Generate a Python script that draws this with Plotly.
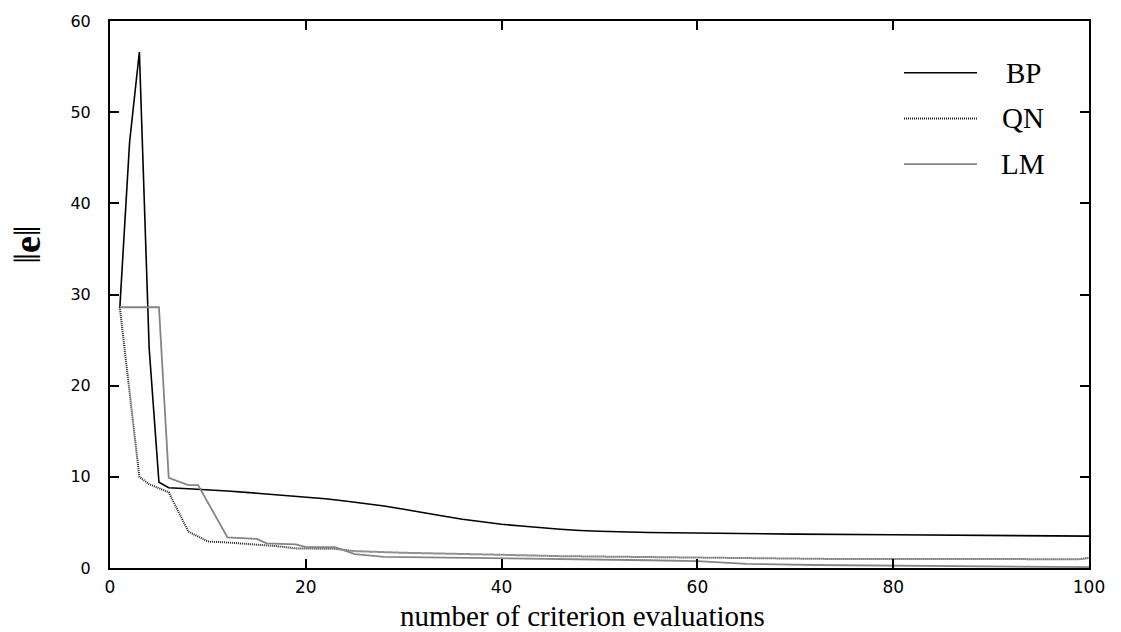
import plotly.graph_objects as go

# Error norm versus number of criterion evaluations for three training methods
bp_x = [1, 2, 3, 4, 5, 6, 8, 10, 12, 15, 17, 20, 22, 24, 26, 28, 30, 32, 34, 36, 38, 40, 42, 44, 46,
        48, 50, 55, 60, 65, 70, 80, 90, 100]
bp_y = [28.5, 46.7, 56.6, 24.1, 9.4, 8.8, 8.7, 8.6, 8.45, 8.2, 8.05, 7.8, 7.6, 7.35, 7.1, 6.8, 6.45,
        6.05, 5.7, 5.35, 5.05, 4.8, 4.6, 4.4, 4.25, 4.12, 4.03, 3.9, 3.82, 3.77, 3.72, 3.65, 3.58, 3.5]

qn_x = [1, 3, 4, 6, 8, 10, 12, 15, 17, 19, 23, 25, 30, 40, 46, 55, 65, 73, 85, 99, 100]
qn_y = [28.6, 10.0, 9.2, 8.3, 4.0, 2.9, 2.8, 2.6, 2.4, 2.15, 2.1, 1.85, 1.67, 1.45, 1.3, 1.2, 1.1, 1.0,
        0.98, 0.97, 1.1]

lm_x = [1, 5, 6, 8, 9, 12, 15, 16, 19, 20, 23, 25, 28, 35, 46, 55, 60, 65, 72, 85, 99, 100]
lm_y = [28.6, 28.6, 9.9, 9.1, 9.1, 3.35, 3.2, 2.7, 2.6, 2.3, 2.3, 1.53, 1.23, 1.15, 0.95, 0.85, 0.76,
        0.45, 0.33, 0.2, 0.1, 0.1]

x_ticks = [0, 20, 40, 60, 80, 100]
y_ticks = [0, 10, 20, 30, 40, 50, 60]

series = [
    ("BP", bp_x, bp_y, dict(color="#000000", width=1.6)),
    ("QN", qn_x, qn_y, dict(color="#222222", width=2, dash="1px,1px")),
    ("LM", lm_x, lm_y, dict(color="#858585", width=1.8)),
]

fig = go.Figure()
for name, xs, ys, line in series:
    fig.add_trace(go.Scatter(x=xs, y=ys, mode="lines", name=name, line=line, showlegend=False))

serif = "Liberation Serif, Times New Roman, serif"
tickfont = "DejaVu Sans, sans-serif"

# plot area in pixels, used to place the legend and labels in paper coordinates
left, right, top, bottom = 110, 1089, 18, 568


def px(x):
    return (x - left) / (right - left)


def py(y):
    return (bottom - y) / (bottom - top)


# hand-drawn legend: sample line plus label
legend_rows = [("BP", 70), ("QN", 116), ("LM", 162)]
for (name, ypix), (_, _, _, line) in zip(legend_rows, series):
    fig.add_shape(type="line", xref="paper", yref="paper",
                  x0=px(904), x1=px(977), y0=py(ypix), y1=py(ypix), line=line)
    fig.add_annotation(x=px(1023), y=py(ypix), xref="paper", yref="paper",
                       text=name, showarrow=False, xanchor="center", yanchor="middle",
                       font=dict(family=serif, size=29, color="#000"))

# y-axis label
fig.add_annotation(x=px(27), y=py(243), xref="paper", yref="paper", text="‖<b>e</b>‖",
                   showarrow=False, textangle=-90, xanchor="center", yanchor="middle",
                   font=dict(family=serif, size=38, color="#000"))

# x-axis label
fig.add_annotation(x=px(582), y=py(633), xref="paper", yref="paper",
                   text="number of criterion evaluations",
                   showarrow=False, xanchor="center", yanchor="bottom", borderpad=0,
                   font=dict(family=serif, size=29, color="#000"))

axis_common = dict(showgrid=False, zeroline=False, showline=True, linecolor="#000", linewidth=2,
                   mirror="ticks", ticks="inside", ticklen=9, tickwidth=2, tickcolor="#000")

fig.update_xaxes(range=[0, 100], tickvals=x_ticks, ticktext=[str(v) for v in x_ticks],
                 tickfont=dict(family=tickfont, size=17, color="#000"), ticklabelstandoff=3,
                 **axis_common)
fig.update_yaxes(range=[0, 60], tickvals=y_ticks, ticktext=[str(v) for v in y_ticks],
                 tickfont=dict(family=tickfont, size=16, color="#000"), ticklabelstandoff=14,
                 **axis_common)

fig.update_layout(width=1121, height=632, plot_bgcolor="white", paper_bgcolor="white",
                  margin=dict(l=left, r=1121 - right, t=top, b=632 - bottom))

fig.write_html("out.html")
